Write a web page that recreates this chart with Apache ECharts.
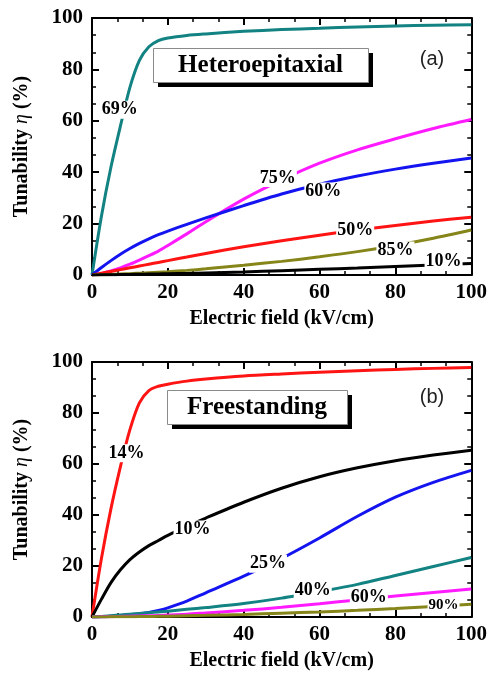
<!DOCTYPE html>
<html>
<head>
<meta charset="utf-8">
<script src="https://cdn.jsdelivr.net/npm/echarts@6/dist/echarts.min.js"></script>
<style>
  html, body { margin: 0; padding: 0; background: #fff; }
  #chart { width: 490px; height: 675px; }
</style>
</head>
<body>
<div id="chart"></div>
<script>
// electric field (kV/cm), shared by every curve
var field = [0, 2.5, 5, 7.5, 10, 12.5, 15, 17.5, 20, 25, 30, 40, 50, 60, 70, 80, 90, 100];

// (a) heteroepitaxial, tunability (%)
var het69 = [0, 23, 42, 58, 73, 83.5, 88.8, 91.2, 92.2, 93.2, 93.8, 94.8, 95.5, 96, 96.5, 96.9, 97.2, 97.4];
var het75 = [0, 0.6, 1.6, 2.8, 4.2, 5.8, 7.5, 9.3, 11.5, 16, 20.7, 29.5, 37, 43.5, 48.7, 53, 57, 60.5];
var het60 = [0, 2.9, 5.6, 8.1, 10.3, 12.3, 14.1, 15.7, 17.1, 19.7, 22.2, 27, 31.5, 35.3, 38.5, 41.2, 43.5, 45.5];
var het50 = [0, 0.7, 1.4, 2.1, 2.8, 3.5, 4.2, 4.9, 5.6, 7, 8.4, 11, 13.3, 15.5, 17.5, 19.3, 21, 22.5];
var het85 = [0, 0.1, 0.2, 0.4, 0.5, 0.7, 0.9, 1.1, 1.3, 1.8, 2.4, 3.8, 5.3, 7.1, 9.1, 11.5, 14.3, 17.5];
var het10 = [0, 0.05, 0.1, 0.15, 0.2, 0.3, 0.35, 0.4, 0.5, 0.6, 0.8, 1.2, 1.7, 2.2, 2.7, 3.3, 3.9, 4.5];

// (b) freestanding, tunability (%)
var free14 = [0, 23, 42.5, 59, 73.5, 84, 88.8, 90.5, 91.3, 92.5, 93.3, 94.5, 95.3, 96, 96.6, 97.1, 97.5, 97.8];
var free10 = [0, 7, 13.5, 18.5, 22.5, 25.5, 28, 30, 32, 35.5, 38.8, 45, 50.5, 55, 58.5, 61.3, 63.5, 65.4];
var free25 = [0, 0.1, 0.3, 0.5, 0.8, 1.2, 1.8, 2.6, 3.6, 6.2, 9.5, 16, 23, 31, 39.5, 47, 52.8, 57.5];
var free40 = [0, 0.2, 0.5, 0.8, 1.1, 1.4, 1.7, 2, 2.3, 3, 3.7, 5.3, 7.4, 10, 12.8, 16.3, 19.8, 23.3];
var free60 = [0, 0.05, 0.1, 0.2, 0.3, 0.4, 0.5, 0.6, 0.8, 1.1, 1.6, 2.6, 3.8, 5.2, 6.7, 8.2, 9.6, 11];
var free90 = [0, 0.02, 0.05, 0.08, 0.1, 0.15, 0.2, 0.25, 0.3, 0.5, 0.65, 1, 1.5, 2, 2.6, 3.3, 4.1, 5];

var tickLabels = ['0', '20', '40', '60', '80', '100'];

var serif = '"Liberation Serif", "Times New Roman", serif';

function pair(ys) {
  return field.map(function(x, i) { return [x, ys[i]]; });
}

function tag(text, x, y, size) {
  return {
    coord: [x, y],
    label: {
      show: true,
      position: 'inside',
      formatter: text,
      fontFamily: serif,
      fontWeight: 'bold',
      fontSize: size || 18,
      color: '#000',
      backgroundColor: '#fff',
      padding: [0, 1, 0, 1]
    }
  };
}

function curve(grid, ys, color, tags) {
  return {
    type: 'line',
    xAxisIndex: grid * 2,
    yAxisIndex: grid * 2,
    data: pair(ys),
    smooth: 0.3,
    showSymbol: false,
    lineStyle: { color: color, width: 3 },
    markPoint: {
      symbol: 'circle',
      symbolSize: 1,
      itemStyle: { color: 'rgba(0,0,0,0)' },
      data: tags
    }
  };
}

function xAxes(grid) {
  var base = {
    gridIndex: grid,
    type: 'value',
    min: 0,
    max: 100,
    interval: 20,
    axisLine: { show: true, onZero: false, lineStyle: { color: '#000', width: 2 } },
    axisTick: { show: true, inside: true, length: 7, lineStyle: { color: '#000', width: 2 } },
    minorTick: { show: true, splitNumber: 3, length: 4, lineStyle: { color: '#000', width: 1.5 } },
    splitLine: { show: false }
  };
  var bottom = Object.assign({}, base, {
    position: 'bottom',
    name: 'Electric field (kV/cm)',
    nameLocation: 'middle',
    nameGap: 34,
    nameTextStyle: { fontFamily: serif, fontWeight: 'bold', fontSize: 20, color: '#000' },
    axisLabel: {
      fontFamily: serif, fontWeight: 'bold', fontSize: 21, color: '#000', margin: 7,
      formatter: function(v) { return tickLabels[v / 20]; }
    }
  });
  var top = Object.assign({}, base, { position: 'top', axisLabel: { show: false } });
  return [bottom, top];
}

function yAxes(grid) {
  var base = {
    gridIndex: grid,
    type: 'value',
    min: 0,
    max: 100,
    interval: 20,
    axisLine: { show: true, onZero: false, lineStyle: { color: '#000', width: 2 } },
    axisTick: { show: true, inside: true, length: 7, lineStyle: { color: '#000', width: 2 } },
    minorTick: { show: true, splitNumber: 3, length: 4, lineStyle: { color: '#000', width: 1.5 } },
    splitLine: { show: false }
  };
  var left = Object.assign({}, base, {
    position: 'left',
    name: '{a|Tunability }{b|η}{a| (%)}',
    nameLocation: 'middle',
    nameGap: 60,
    nameTextStyle: {
      rich: {
        a: { fontFamily: serif, fontWeight: 'bold', fontSize: 20, color: '#000' },
        b: { fontFamily: serif, fontStyle: 'italic', fontSize: 20, color: '#000' }
      }
    },
    axisLabel: {
      fontFamily: serif, fontWeight: 'bold', fontSize: 21, color: '#000', margin: 9,
      formatter: function(v) { return tickLabels[v / 20]; }
    }
  });
  var right = Object.assign({}, base, { position: 'right', axisLabel: { show: false } });
  return [left, right];
}

function titleBox(x, y, w, h, text) {
  return [
    { type: 'rect', left: x + 5, top: y + 5, z: 100, shape: { width: w, height: h }, style: { fill: '#000' } },
    { type: 'rect', left: x, top: y, z: 101, shape: { width: w, height: h }, style: { fill: '#fff', stroke: '#8a8a8a', lineWidth: 1 } },
    { type: 'text', x: x + w / 2, y: y + h / 2 + 1, z: 102,
      style: { text: text, fill: '#000', font: 'bold 25px ' + serif, align: 'center', verticalAlign: 'middle' } }
  ];
}

var chart = echarts.init(document.getElementById('chart'));
var option = {
  backgroundColor: '#fff',
  animation: false,
  grid: [
    { left: 92, right: 17, top: 18, height: 257 },
    { left: 92, right: 17, top: 362, height: 255 }
  ],
  xAxis: xAxes(0).concat(xAxes(1)),
  yAxis: yAxes(0).concat(yAxes(1)),
  graphic: titleBox(153, 48, 215, 34, 'Heteroepitaxial')
    .concat(titleBox(167, 390, 180, 34, 'Freestanding'))
    .concat([
      { type: 'text', x: 432, y: 59, z: 102, style: { text: '(a)', fill: '#222', font: '20px "Liberation Sans", Arial, sans-serif', align: 'center', verticalAlign: 'middle' } },
      { type: 'text', x: 432, y: 397, z: 102, style: { text: '(b)', fill: '#222', font: '20px "Liberation Sans", Arial, sans-serif', align: 'center', verticalAlign: 'middle' } }
    ]),
  series: [
    curve(0, het69, '#128282', [tag('69%', 7.3, 64.3)]),
    curve(0, het75, '#ff1aff', [tag('75%', 49, 37.7)]),
    curve(0, het60, '#1414f0', [tag('60%', 61, 32.5)]),
    curve(0, het50, '#ff1414', [tag('50%', 69.4, 17.5)]),
    curve(0, het85, '#85851a', [tag('85%', 80, 9.5)]),
    curve(0, het10, '#000000', [tag('10%', 92.7, 5.2)]),
    curve(1, free14, '#ff1414', [tag('14%', 9.1, 64.2)]),
    curve(1, free10, '#000000', [tag('10%', 26.5, 34.3)]),
    curve(1, free25, '#1414f0', [tag('25%', 46.4, 20.9)]),
    curve(1, free40, '#128282', [tag('40%', 58.2, 10.5)]),
    curve(1, free60, '#ff1aff', [tag('60%', 73, 7.9)]),
    curve(1, free90, '#85851a', [tag('90%', 92.7, 4.6, 15)])
  ]
};
chart.setOption(option);
</script>
</body>
</html>
